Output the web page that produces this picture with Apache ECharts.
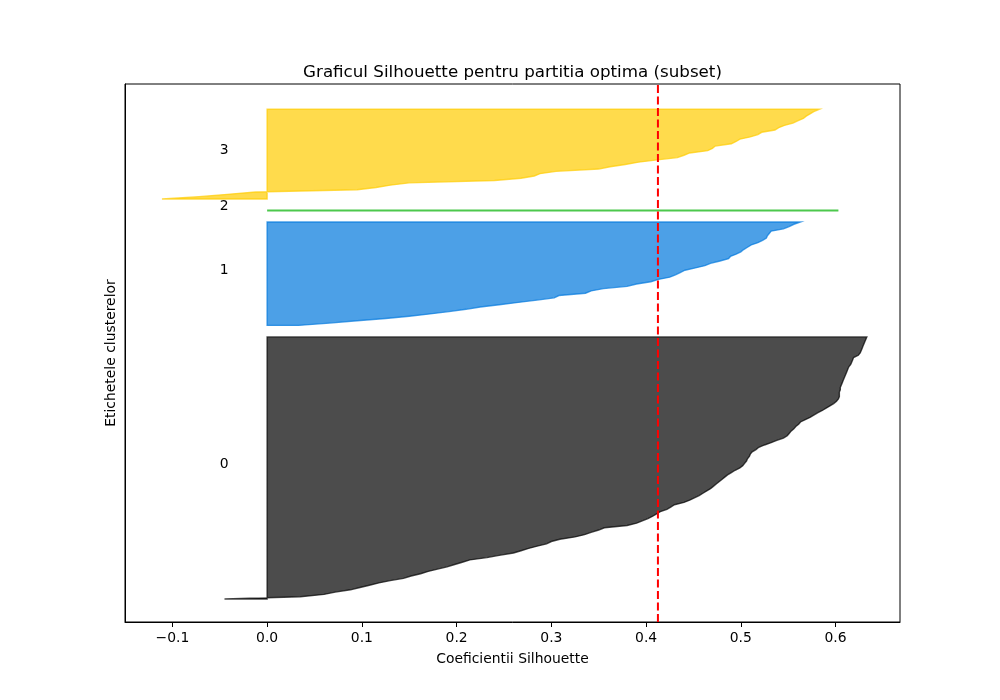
<!DOCTYPE html>
<html>
<head>
<meta charset="utf-8">
<script src="https://cdn.jsdelivr.net/npm/echarts@6/dist/echarts.min.js"></script>
<style>
html, body { margin: 0; padding: 0; background: #fff; }
#chart { width: 1000px; height: 700px; }
</style>
</head>
<body>
<div id="chart"></div>
<script>
// silhouette values per cluster, sorted ascending (bottom -> top)
var clusterNames = ['0', '1', '2', '3'];
var clusterStart = [10, 129, 179, 184];

var cluster0 = [
  -0.045, 0.035, 0.060, 0.072, 0.088, 0.098, 0.108, 0.118, 0.130, 0.144,
  0.152, 0.162, 0.170, 0.180, 0.190, 0.198, 0.206, 0.214, 0.232, 0.245,
  0.260, 0.268, 0.276, 0.285, 0.295, 0.300, 0.309, 0.325, 0.335, 0.342,
  0.350, 0.356, 0.380, 0.390, 0.396, 0.402, 0.407, 0.411, 0.415, 0.422,
  0.426, 0.430, 0.440, 0.446, 0.451, 0.456, 0.460, 0.464, 0.468, 0.471,
  0.474, 0.477, 0.480, 0.483, 0.486, 0.490, 0.494, 0.499, 0.502, 0.504,
  0.506, 0.507, 0.509, 0.510, 0.512, 0.516, 0.519, 0.525, 0.532, 0.538,
  0.545, 0.549, 0.551, 0.553, 0.556, 0.558, 0.561, 0.563, 0.568, 0.573,
  0.577, 0.581, 0.586, 0.590, 0.594, 0.598, 0.601, 0.603, 0.604, 0.604,
  0.604, 0.605, 0.605, 0.606, 0.607, 0.608, 0.609, 0.610, 0.611, 0.612,
  0.613, 0.614, 0.616, 0.617, 0.618, 0.619, 0.624, 0.626, 0.627, 0.628,
  0.629, 0.630, 0.631, 0.632, 0.633
];
var cluster1 = [
  0.033, 0.066, 0.095, 0.125, 0.150, 0.172, 0.192, 0.210, 0.225, 0.245,
  0.265, 0.285, 0.303, 0.308, 0.336, 0.342, 0.355, 0.380, 0.390, 0.405,
  0.413, 0.425, 0.431, 0.436, 0.441, 0.452, 0.462, 0.468, 0.478, 0.487,
  0.489, 0.495, 0.500, 0.503, 0.507, 0.511, 0.518, 0.523, 0.527, 0.528,
  0.530, 0.532, 0.545, 0.551, 0.556, 0.563
];
var cluster2 = [0.603];
var cluster3 = [
  -0.111, -0.072, -0.042, -0.012, 0.095, 0.115, 0.130, 0.150, 0.240, 0.268,
  0.282, 0.288, 0.305, 0.350, 0.362, 0.378, 0.392, 0.412, 0.433, 0.440,
  0.446, 0.465, 0.470, 0.473, 0.490, 0.495, 0.499, 0.510, 0.518, 0.522,
  0.536, 0.540, 0.546, 0.555, 0.560, 0.566, 0.569, 0.573, 0.577, 0.583
];

var silhouetteMean = 0.4125;
var xTickValues = [-0.1, 0.0, 0.1, 0.2, 0.3, 0.4, 0.5, 0.6];

var clusters = [cluster0, cluster1, cluster2, cluster3];
var clusterColors = ['#000000', '#0077dd', '#00b000', '#ffcc00'];

var chart = echarts.init(document.getElementById('chart'));

function clusterSeries(i) {
  var values = clusters[i];
  var start = clusterStart[i];
  return {
    type: 'custom',
    name: clusterNames[i],
    data: [[0, start]],
    z: 2,
    renderItem: function (params, api) {
      var pts = [];
      var k;
      for (k = 0; k < values.length; k++) pts.push(api.coord([0, start + k]));
      for (k = values.length - 1; k >= 0; k--) pts.push(api.coord([values[k], start + k]));
      return {
        type: values.length > 1 ? 'polygon' : 'polyline',
        shape: { points: pts },
        style: {
          fill: values.length > 1 ? clusterColors[i] : null,
          stroke: clusterColors[i],
          lineWidth: values.length > 1 ? 1.4 : 2,
          opacity: 0.7
        }
      };
    }
  };
}

var series = [];
for (var i = 0; i < clusters.length; i++) series.push(clusterSeries(i));

// cluster labels at x=-0.05, middle of each block
series.push({
  type: 'custom',
  data: clusterNames.map(function (n, i) { return [-0.05, clusterStart[i] + clusters[i].length / 2]; }),
  z: 3,
  renderItem: function (params, api) {
    var p = api.coord([api.value(0), api.value(1)]);
    return {
      type: 'text',
      x: p[0],
      y: p[1] - 2.6,
      style: {
        text: clusterNames[params.dataIndex],
        fill: '#000',
        font: '13.9px "DejaVu Sans"',
        align: 'left',
        verticalAlign: 'middle'
      }
    };
  }
});

series.push({
  type: 'line',
  data: [[silhouetteMean, 0], [silhouetteMean, 234]],
  symbol: 'none',
  z: 4,
  lineStyle: { color: '#ff0000', width: 2, type: [8, 3.5] }
});

chart.setOption({
  animation: false,
  backgroundColor: '#fff',
  textStyle: { fontFamily: 'DejaVu Sans' },
  title: {
    text: 'Graficul Silhouette pentru partitia optima (subset)',
    left: 507.5,
    textAlign: 'center',
    top: 59,
    textStyle: { fontSize: 16.7, fontWeight: 'normal', color: '#000', fontFamily: 'DejaVu Sans' }
  },
  grid: {
    left: 125, right: 100, top: 84, bottom: 78,
    show: true, borderColor: '#000', borderWidth: 1, backgroundColor: 'transparent'
  },
  xAxis: {
    type: 'value',
    min: -0.15,
    max: 0.668,
    name: 'Coeficientii Silhouette',
    nameLocation: 'middle',
    nameGap: 30,
    nameTextStyle: { fontSize: 13.9, color: '#000', fontFamily: 'DejaVu Sans' },
    axisLine: { show: true, onZero: false, lineStyle: { color: '#000', width: 1 } },
    axisTick: { show: true, length: 5, lineStyle: { color: '#000' }, customValues: xTickValues },
    axisLabel: {
      customValues: xTickValues,
      margin: 9,
      fontSize: 13.9,
      color: '#000',
      fontFamily: 'DejaVu Sans',
      formatter: function (v) {
        return v < 0 ? '\u2212' + Math.abs(v).toFixed(1) : Math.abs(v).toFixed(1);
      }
    },
    splitLine: { show: false }
  },
  yAxis: {
    type: 'value',
    min: 0,
    max: 234,
    name: 'Etichetele clusterelor',
    nameLocation: 'middle',
    nameGap: 7,
    nameTextStyle: { fontSize: 13.9, color: '#000', fontFamily: 'DejaVu Sans' },
    axisLine: { show: true, onZero: false, lineStyle: { color: '#000', width: 1 } },
    axisTick: { show: false },
    axisLabel: { show: false },
    splitLine: { show: false }
  },
  series: series
});
</script>
</body>
</html>
